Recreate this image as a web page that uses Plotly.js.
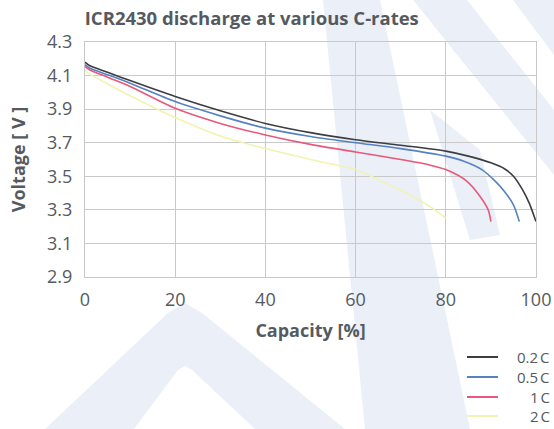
<!DOCTYPE html>
<html>
<head>
<meta charset="utf-8">
<script src="https://cdn.plot.ly/plotly-3.0.1.min.js"></script>
<style>html,body{margin:0;padding:0;background:#fff;}#chart{width:554px;height:429px;}</style>
</head>
<body>
<div id="chart"></div>
<script>
// Data (capacity %, voltage V)
const cap02 = [0, 1, 5, 10, 20, 30, 40, 50, 60, 70, 80, 85, 90, 93, 95, 97, 98.5, 100];
const v02   = [4.18, 4.16, 4.12, 4.07, 3.975, 3.89, 3.815, 3.76, 3.718, 3.685, 3.65, 3.62, 3.58, 3.545, 3.50, 3.42, 3.34, 3.23];
const cap05 = [0, 1, 5, 10, 20, 30, 40, 50, 60, 70, 80, 84, 88, 91, 93, 95, 96.3];
const v05   = [4.165, 4.145, 4.105, 4.055, 3.945, 3.86, 3.787, 3.737, 3.70, 3.665, 3.62, 3.59, 3.54, 3.47, 3.41, 3.33, 3.23];
const cap1  = [0, 1, 5, 10, 20, 30, 40, 50, 60, 70, 76, 80, 84.7, 87.6, 89.4, 90];
const v1    = [4.155, 4.135, 4.09, 4.035, 3.905, 3.815, 3.746, 3.69, 3.645, 3.60, 3.57, 3.54, 3.47, 3.38, 3.30, 3.23];
const cap2  = [0, 1, 5, 10, 20, 30, 40, 50, 60, 65, 72.7, 77, 80];
const v2    = [4.13, 4.11, 4.05, 3.98, 3.85, 3.74, 3.665, 3.60, 3.54, 3.48, 3.38, 3.31, 3.25];

const seriesNames = ["0.2 C", "0.5 C", "1 C", "2 C"];
const xTicks = [0, 20, 40, 60, 80, 100];
const yTicks = [2.9, 3.1, 3.3, 3.5, 3.7, 3.9, 4.1, 4.3];

const colors = ["#3a3d42", "#5582c0", "#e8587a", "#f1f4b0"];
const xs = [cap02, cap05, cap1, cap2];
const ys = [v02, v05, v1, v2];

const traces = xs.map((x, i) => ({
  x: x, y: ys[i], type: "scatter", mode: "lines", name: seriesNames[i],
  line: {color: colors[i], width: 1.6, shape: "spline", smoothing: 0.8},
  hoverinfo: "skip", showlegend: false
}));

// pixel -> paper helpers (plot area 85..536 x 42..277)
const L = 85, R = 536, T = 42, B = 277;
const px = v => (v - L) / (R - L);
const py = v => (B - v) / (B - T);
function P(a, b) { return px(a).toFixed(4) + "," + py(b).toFixed(4); }
function path(pts) { return "M" + pts.map(p => P(p[0], p[1])).join(" L") + " Z"; }

// faint background watermark
const wm = "rgba(205,218,238,0.42)";
const shapes = [
  path([[45,429],[168,313],[185,303],[202,313],[345,429],[255,429],[192,370],[185,366],[178,370],[134,429]]),
  path([[323,0],[380,0],[470,429],[365,429]]),
  path([[413,0],[467,0],[554,110],[554,175]]),
  path([[513,0],[554,0],[554,55]]),
  path([[430,110],[480,150],[500,235],[470,240]])
].map(d => ({type: "path", path: d, xref: "paper", yref: "paper", fillcolor: wm, line: {width: 0}, layer: "below"}));

// manual legend: short line samples + right-aligned labels
const legendRows = [357, 377, 397, 416];
const annotations = [];
seriesNames.forEach((name, i) => {
  shapes.push({type: "line", xref: "paper", yref: "paper", x0: px(467), x1: px(498), y0: py(legendRows[i]), y1: py(legendRows[i]),
               line: {color: colors[i], width: 2}});
  annotations.push({xref: "paper", yref: "paper", x: px(551), y: py(legendRows[i]), xanchor: "right", yanchor: "middle",
                    text: name.replace(" ", "\u202F"), showarrow: false, borderpad: 0, font: {size: 15, color: "#555a60"}});
});

const gray = "#555a60";
const layout = {
  width: 554, height: 429,
  margin: {l: 85, r: 18, t: 42, b: 152, autoexpand: false},
  paper_bgcolor: "#ffffff", plot_bgcolor: "rgba(0,0,0,0)",
  font: {family: "Open Sans, sans-serif", color: gray, size: 17},
  title: {text: "<b>ICR2430 discharge at various C-rates</b>", font: {size: 18.5, color: gray}, x: 0.153, xanchor: "left", y: 0.957, yanchor: "middle"},
  xaxis: {
    range: [0, 100], tickvals: xTicks, ticktext: xTicks.map(String),
    showgrid: true, gridcolor: "#c9c9c9", gridwidth: 1, zeroline: false,
    showline: true, linecolor: "#c9c9c9", mirror: true,
    ticks: "", tickfont: {size: 18, color: gray}, ticklabelstandoff: 6,
    title: {text: "<b>Capacity [%]</b>", font: {size: 18, color: gray}, standoff: 14}
  },
  yaxis: {
    range: [2.9, 4.3], tickvals: yTicks, ticktext: yTicks.map(v => v.toFixed(1)),
    showgrid: true, gridcolor: "#c9c9c9", gridwidth: 1, zeroline: false,
    showline: true, linecolor: "#c9c9c9", mirror: true,
    ticks: "", tickfont: {size: 18, color: gray}, ticklabelstandoff: 8,
    title: {text: "<b>Voltage [ V ]</b>", font: {size: 18, color: gray}, standoff: 16}
  },
  showlegend: false,
  shapes: shapes,
  annotations: annotations
};

Plotly.newPlot("chart", traces, layout, {staticPlot: true, displayModeBar: false});
</script>
</body>
</html>
